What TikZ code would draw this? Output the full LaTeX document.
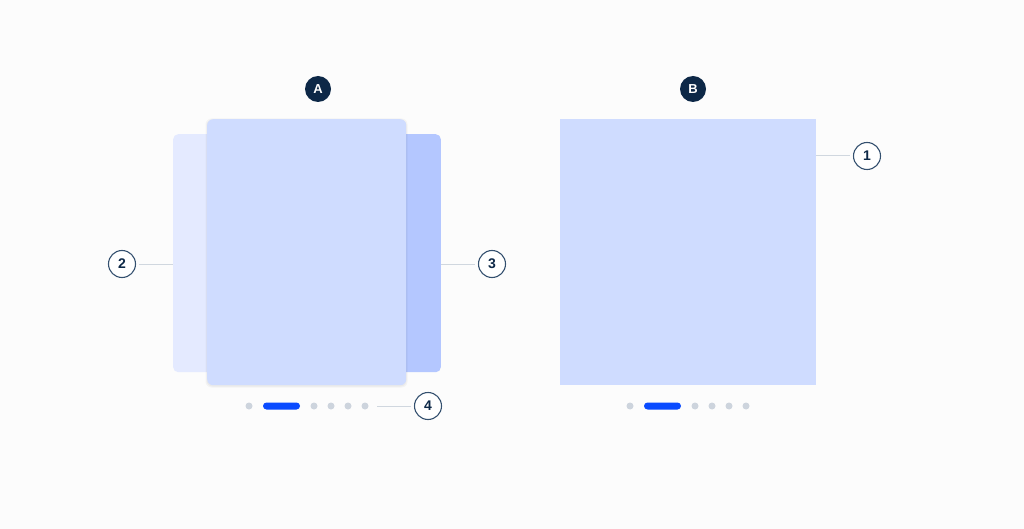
\documentclass[tikz,border=0pt]{standalone}
\usepackage{fontspec}
\setmainfont{Liberation Sans}
\definecolor{bg}{HTML}{FCFCFC}
\definecolor{cardmain}{HTML}{CFDCFF}
\definecolor{cardlight}{HTML}{E4EAFF}
\definecolor{carddark}{HTML}{B4C7FF}
\definecolor{navy}{HTML}{0D2847}
\definecolor{ring}{HTML}{34506F}
\definecolor{leader}{HTML}{D0D7DF}
\definecolor{dotgray}{HTML}{CDD4DD}
\definecolor{activeblue}{HTML}{0A4BFF}
\begin{document}
\begin{tikzpicture}[x=1pt,y=-1pt,
  card/.style={draw=none, inner sep=0pt, anchor=north west},
  badge/.style={circle, fill=navy, text=white, minimum size=26pt, inner sep=0pt, font=\bfseries\fontsize{13}{13}\selectfont},
  callout/.style={circle, draw=ring, line width=1.1pt, fill=white, text=navy, minimum size=27pt, inner sep=0pt, font=\bfseries\fontsize{14}{14}\selectfont},
  leaderline/.style={draw=leader, line width=1pt, shorten <=3pt},
  pagedot/.style={circle, fill=dotgray, minimum size=7pt, inner sep=0pt},
  pill/.style={rectangle, rounded corners=3.5pt, fill=activeblue, minimum width=37pt, minimum height=7pt, inner sep=0pt}
]
\useasboundingbox[fill=bg] (0,0) rectangle (1024,529);

% ---- Variant A ----
\node[card, fill=cardlight, rounded corners=5pt, minimum width=45pt, minimum height=238pt] (cardL) at (173,134) {};
\node[card, anchor=north east, fill=carddark, rounded corners=5pt, minimum width=45pt, minimum height=238pt] (cardR) at (441,134) {};
% soft shadow of main card
\fill[black, opacity=0.035, rounded corners=6pt] (205.5,118.5) rectangle (407.5,387.5);
\fill[black, opacity=0.035, rounded corners=6pt] (206.5,119.5) rectangle (406.5,386.5);
\node[card, fill=cardmain, rounded corners=6pt, minimum width=199pt, minimum height=266pt] (cardM) at (207,119) {};

\node[badge] (bA) at (318,89) {A};

\node[callout] (n2) at (122,264) {2};
\node[callout] (n3) at (492,264) {3};
\node[callout] (n4) at (428,406) {4};

\draw[leaderline] (n2.east) -- (n2.east -| cardL.west);
\draw[leaderline] (n3.west) -- (n3.west -| cardR.east);

\node[pagedot] (a1) at (249,406) {};
\node[pill] (a2) at (281.5,406) {};
\node[pagedot] (a3) at (314,406) {};
\node[pagedot] (a4) at (331,406) {};
\node[pagedot] (a5) at (348,406) {};
\node[pagedot] (a6) at (365,406) {};
\draw[leaderline] (n4.west) -- ([xshift=8pt]a6.east);

% ---- Variant B ----
\node[card, fill=cardmain, minimum width=256pt, minimum height=266pt] (cardB) at (560,119) {};
\node[badge] (bB) at (693,89) {B};
\node[callout] (n1) at (867,156) {1};
\draw[leaderline] (n1.west) -- (n1.west -| cardB.east);

\node[pagedot] (b1) at (630,406) {};
\node[pill] (b2) at (662.5,406) {};
\node[pagedot] (b3) at (695,406) {};
\node[pagedot] (b4) at (712,406) {};
\node[pagedot] (b5) at (729,406) {};
\node[pagedot] (b6) at (746,406) {};
\end{tikzpicture}
\end{document}
